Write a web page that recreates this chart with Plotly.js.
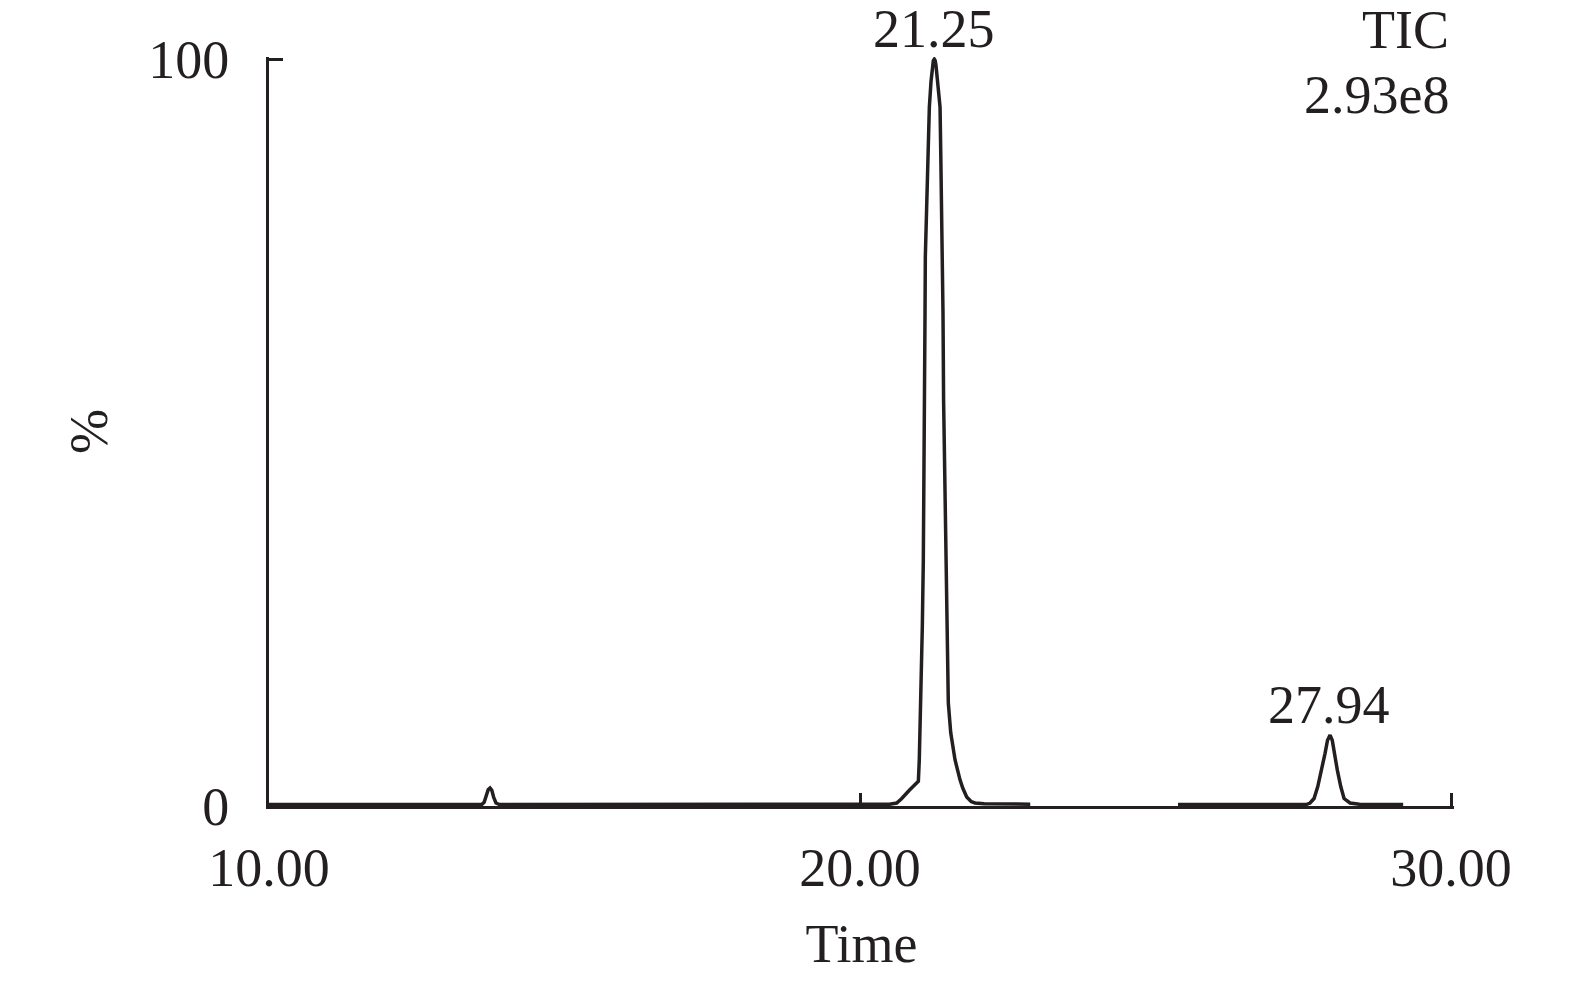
<!DOCTYPE html>
<html>
<head>
<meta charset="utf-8">
<script src="https://cdn.plot.ly/plotly-3.0.1.min.js"></script>
<style>html,body{margin:0;padding:0;background:#fff;}#chart{width:1575px;height:982px;}</style>
</head>
<body>
<div id="chart"></div>
<script>
// Retention time (min)
var timeMin = [10.00, 13.60, 13.64, 13.68, 13.71, 13.74, 13.77, 13.80, 13.84, 13.90,
  20.30, 20.50, 20.621, 20.706, 20.834, 20.902, 20.987, 21.003, 21.015, 21.032, 21.054, 21.071,
  21.083, 21.088, 21.100, 21.105, 21.129, 21.146, 21.173, 21.201, 21.225, 21.240, 21.257, 21.272, 21.285,
  21.311, 21.354, 21.367, 21.382, 21.396, 21.404, 21.414, 21.438, 21.460, 21.472, 21.494,
  21.535, 21.607, 21.692, 21.738, 21.805, 21.880, 21.946, 22.10, 22.88, 24.00,
  25.38, 27.55, 27.614, 27.682, 27.745, 27.812, 27.868, 27.91, 27.953, 27.99, 28.025,
  28.076, 28.134, 28.190, 28.291, 28.45, 29.19];
// Relative intensity (%)
var intensityPct = [0.2, 0.2, 0.5, 1.4, 2.2, 2.4, 2.1, 1.2, 0.4, 0.2,
  0.2, 0.25, 0.4, 1.0, 2.1, 2.6, 3.3, 6.2, 9.8, 13.8, 24, 32.9,
  42.3, 54.4, 66, 73.5, 79.8, 86.9, 93.6, 97, 99.0, 99.8, 100, 99.8, 99.2,
  97, 93.6, 86.9, 79.8, 73.5, 66, 54.4, 42.3, 32.9, 24, 13.8,
  9.8, 6.2, 3.5, 2.4, 1.2, 0.6, 0.4, 0.3, 0.25, null,
  0.2, 0.2, 0.4, 1.0, 2.6, 4.8, 7.05, 8.8, 9.5, 8.8, 7.05,
  4.8, 2.6, 1.0, 0.4, 0.25, 0.2];

var peakLabels = ["21.25", "27.94"];
var peakTimes = [21.25, 27.94];
var peakHeights = [100, 9.5];

var xTickVals = [10, 20, 30];
var xTickText = ["10.00", "20.00", "30.00"];
var yTickVals = [0, 100];
var yTickText = ["0", "100"];

var traceName = "TIC";
var traceScale = "2.93e8";

var ink = "#231f20";
var fontFam = "Liberation Serif, Times New Roman, serif";

var annotations = peakLabels.map(function (lab, i) {
  return {
    x: peakTimes[i], y: peakHeights[i], xref: "x", yref: "y",
    text: lab, showarrow: false, xanchor: "center", yanchor: "bottom",
    yshift: -2,
    font: {family: fontFam, size: 54, color: ink}
  };
});
annotations.push({
  x: 1, y: 1.036, xref: "paper", yref: "paper", text: traceName,
  showarrow: false, xanchor: "right", yanchor: "middle", xshift: -3,
  font: {family: fontFam, size: 54, color: ink}
});
annotations.push({
  x: 1, y: 0.9486, xref: "paper", yref: "paper", text: traceScale,
  showarrow: false, xanchor: "right", yanchor: "middle", xshift: -3,
  font: {family: fontFam, size: 54, color: ink}
});

var data = [{
  x: timeMin, y: intensityPct, type: "scatter", mode: "lines",
  connectgaps: false,
  line: {color: ink, width: 3.5},
  hoverinfo: "x+y"
}];

var layout = {
  width: 1575, height: 982,
  margin: {l: 269, r: 121, t: 57, b: 176},
  paper_bgcolor: "#ffffff", plot_bgcolor: "#ffffff",
  showlegend: false,
  font: {family: fontFam, size: 54, color: ink},
  xaxis: {
    range: [10, 30.05], tickmode: "array", tickvals: xTickVals, ticktext: xTickText,
    ticks: "inside", ticklen: 13, tickwidth: 3, tickcolor: ink,
    showline: true, linecolor: ink, linewidth: 3, mirror: false,
    showgrid: false, zeroline: false,
    tickfont: {family: fontFam, size: 54, color: ink},
    ticklabelstandoff: 12,
    automargin: true,
    title: {text: "Time", font: {family: fontFam, size: 54, color: ink}, standoff: 28}
  },
  yaxis: {
    range: [0, 100.3], tickmode: "array", tickvals: yTickVals, ticktext: yTickText,
    ticks: "inside", ticklen: 14, tickwidth: 3, tickcolor: ink,
    showline: true, linecolor: ink, linewidth: 3,
    showgrid: false, zeroline: false,
    tickfont: {family: fontFam, size: 54, color: ink},
    ticklabelstandoff: 26,
    automargin: true,
    title: {text: "%", font: {family: fontFam, size: 54, color: ink}, standoff: 24}
  },
  annotations: annotations
};

Plotly.newPlot("chart", data, layout, {displayModeBar: false, staticPlot: true});
</script>
</body>
</html>
